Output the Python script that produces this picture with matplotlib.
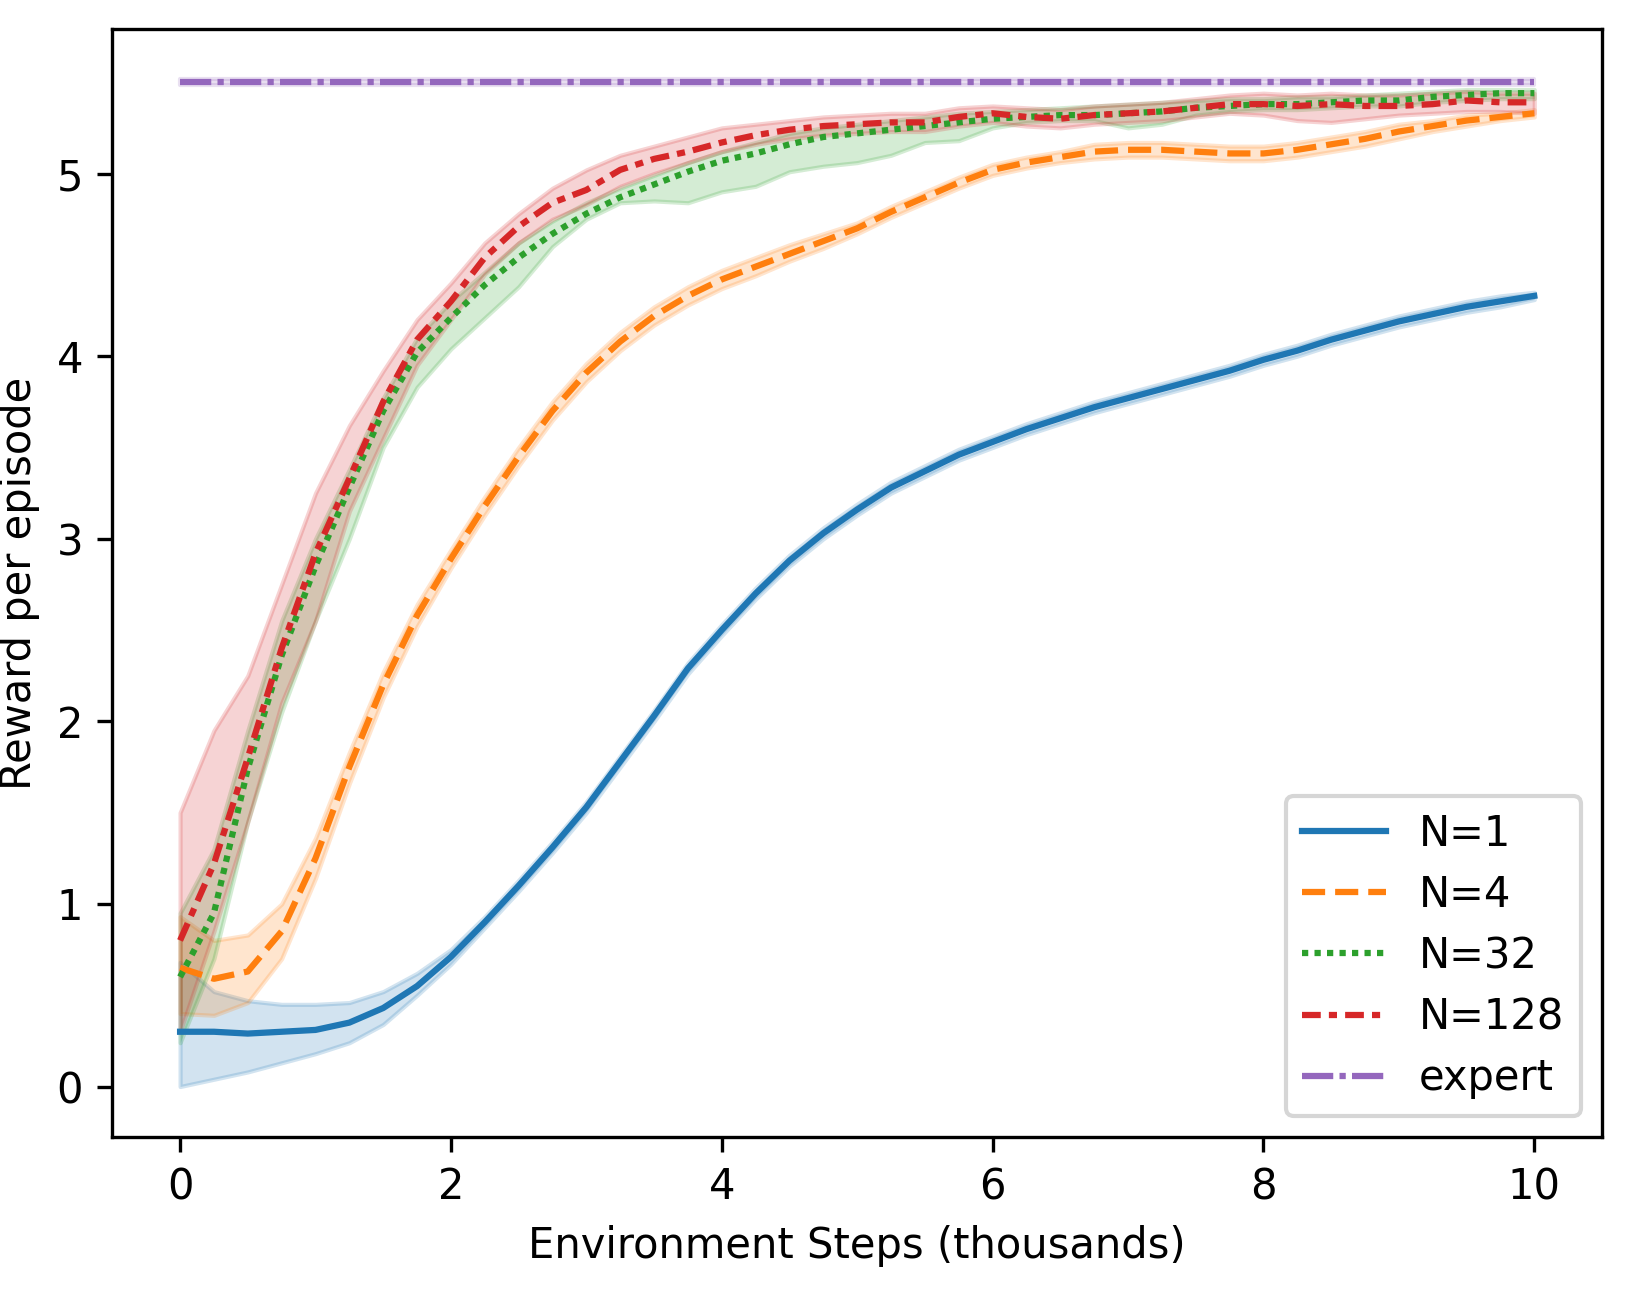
import numpy as np
import matplotlib.pyplot as plt

# environment steps (thousands)
STEPS = np.arange(0, 10.01, 0.25)

N1_MEAN = [0.30, 0.30, 0.29, 0.30, 0.31, 0.35, 0.43, 0.55, 0.71, 0.90,
           1.10, 1.31, 1.53, 1.78, 2.03, 2.29, 2.50, 2.70, 2.88, 3.03,
           3.16, 3.28, 3.37, 3.46, 3.53, 3.60, 3.66, 3.72, 3.77, 3.82,
           3.87, 3.92, 3.98, 4.03, 4.09, 4.14, 4.19, 4.23, 4.27, 4.30, 4.33]
N1_LO = [0.00, 0.04, 0.08, 0.13, 0.18, 0.24, 0.34, 0.50, 0.67, 0.87,
         1.07, 1.28, 1.50, 1.75, 2.00, 2.26, 2.47, 2.67, 2.85, 3.00,
         3.13, 3.25, 3.34, 3.43, 3.50, 3.57, 3.63, 3.69, 3.74, 3.79,
         3.84, 3.89, 3.95, 4.00, 4.06, 4.11, 4.16, 4.20, 4.24, 4.27, 4.31]
N1_HI = [0.68, 0.52, 0.47, 0.45, 0.45, 0.46, 0.52, 0.62, 0.75, 0.93,
         1.13, 1.34, 1.56, 1.81, 2.06, 2.32, 2.53, 2.73, 2.91, 3.06,
         3.19, 3.31, 3.40, 3.49, 3.56, 3.63, 3.69, 3.75, 3.80, 3.85,
         3.90, 3.95, 4.01, 4.06, 4.12, 4.17, 4.22, 4.26, 4.30, 4.33, 4.35]

N4_MEAN = [0.65, 0.59, 0.63, 0.85, 1.25, 1.75, 2.20, 2.58, 2.89, 3.18,
           3.45, 3.70, 3.91, 4.08, 4.22, 4.33, 4.42, 4.49, 4.56, 4.63,
           4.70, 4.79, 4.87, 4.95, 5.02, 5.06, 5.09, 5.12, 5.13, 5.13,
           5.12, 5.11, 5.11, 5.13, 5.16, 5.19, 5.23, 5.26, 5.29, 5.31, 5.33]
N4_LO = [0.40, 0.39, 0.46, 0.70, 1.14, 1.66, 2.13, 2.52, 2.84, 3.13,
         3.40, 3.65, 3.86, 4.03, 4.17, 4.28, 4.37, 4.44, 4.52, 4.59,
         4.67, 4.76, 4.84, 4.92, 4.99, 5.03, 5.06, 5.08, 5.09, 5.09,
         5.08, 5.07, 5.07, 5.09, 5.12, 5.15, 5.19, 5.23, 5.26, 5.29, 5.31]
N4_HI = [0.93, 0.80, 0.83, 1.00, 1.36, 1.83, 2.27, 2.64, 2.94, 3.23,
         3.50, 3.75, 3.96, 4.13, 4.27, 4.38, 4.47, 4.54, 4.61, 4.67,
         4.73, 4.82, 4.90, 4.98, 5.05, 5.09, 5.12, 5.16, 5.17, 5.17,
         5.16, 5.15, 5.15, 5.17, 5.20, 5.23, 5.27, 5.29, 5.32, 5.33, 5.35]

N32_MEAN = [0.60, 0.95, 1.74, 2.36, 2.85, 3.28, 3.70, 4.02, 4.21, 4.39,
            4.54, 4.67, 4.78, 4.87, 4.94, 5.01, 5.07, 5.11, 5.16, 5.20,
            5.22, 5.24, 5.26, 5.28, 5.30, 5.31, 5.32, 5.32, 5.33, 5.34,
            5.36, 5.37, 5.38, 5.38, 5.39, 5.40, 5.40, 5.42, 5.43, 5.44, 5.44]
N32_LO = [0.24, 0.70, 1.45, 2.05, 2.55, 3.00, 3.50, 3.83, 4.04, 4.21,
          4.38, 4.60, 4.75, 4.84, 4.85, 4.84, 4.90, 4.93, 5.01, 5.04,
          5.06, 5.10, 5.17, 5.18, 5.25, 5.28, 5.29, 5.29, 5.25, 5.27,
          5.32, 5.34, 5.35, 5.35, 5.36, 5.37, 5.37, 5.39, 5.40, 5.41, 5.41]
N32_HI = [0.95, 1.30, 1.95, 2.55, 3.00, 3.38, 3.77, 4.10, 4.30, 4.46,
          4.62, 4.74, 4.84, 4.92, 4.99, 5.06, 5.12, 5.17, 5.22, 5.25,
          5.27, 5.29, 5.31, 5.33, 5.34, 5.35, 5.36, 5.37, 5.38, 5.39,
          5.40, 5.41, 5.41, 5.42, 5.42, 5.43, 5.44, 5.45, 5.46, 5.46, 5.46]

N128_MEAN = [0.80, 1.22, 1.80, 2.40, 2.92, 3.33, 3.75, 4.09, 4.30, 4.54,
             4.71, 4.84, 4.91, 5.02, 5.08, 5.12, 5.17, 5.21, 5.24, 5.26,
             5.27, 5.28, 5.28, 5.31, 5.33, 5.31, 5.30, 5.32, 5.33, 5.34,
             5.36, 5.38, 5.38, 5.37, 5.38, 5.37, 5.37, 5.38, 5.40, 5.39, 5.39]
N128_LO = [0.30, 0.85, 1.45, 2.10, 2.55, 3.15, 3.55, 3.95, 4.20, 4.45,
           4.62, 4.75, 4.83, 4.93, 5.00, 5.06, 5.12, 5.16, 5.19, 5.21,
           5.22, 5.23, 5.23, 5.26, 5.28, 5.26, 5.25, 5.27, 5.28, 5.29,
           5.31, 5.33, 5.32, 5.29, 5.28, 5.30, 5.32, 5.33, 5.34, 5.34, 5.33]
N128_HI = [1.50, 1.95, 2.25, 2.75, 3.25, 3.62, 3.92, 4.20, 4.40, 4.62,
           4.78, 4.92, 5.02, 5.10, 5.15, 5.20, 5.25, 5.27, 5.29, 5.31,
           5.32, 5.33, 5.33, 5.36, 5.37, 5.36, 5.35, 5.37, 5.38, 5.39,
           5.41, 5.43, 5.44, 5.43, 5.44, 5.43, 5.43, 5.44, 5.45, 5.44, 5.44]

EXPERT_REWARD = 5.5
EXPERT_SPREAD = 0.015

LABELS = ["N=1", "N=4", "N=32", "N=128"]


def main():
    fig = plt.figure(figsize=(1631 / 300, 1295 / 300), dpi=300)
    ax = fig.add_axes([0.0689, 0.1221, 0.9133, 0.8554])

    series = [
        (N1_MEAN, N1_LO, N1_HI, "C0", "-"),
        (N4_MEAN, N4_LO, N4_HI, "C1", "--"),
        (N32_MEAN, N32_LO, N32_HI, "C2", (0, (1, 1))),
        (N128_MEAN, N128_LO, N128_HI, "C3", (0, (3, 1.3, 1.3, 1.3))),
    ]
    for (mean, lo, hi, color, ls), label in zip(series, LABELS):
        ax.plot(STEPS, mean, color=color, linestyle=ls, label=label)
        ax.fill_between(STEPS, lo, hi, color=color, alpha=0.2)

    expert = np.full(len(STEPS), EXPERT_REWARD)
    ax.plot(STEPS, expert, color="C4", linestyle=(0, (5, 1, 1, 1)),
            label="expert")
    ax.fill_between(STEPS, expert - EXPERT_SPREAD, expert + EXPERT_SPREAD,
                    color="C4", alpha=0.2)

    ax.set_xlabel("Environment Steps (thousands)")
    ax.set_ylabel("Reward per episode")
    ax.legend(loc="lower right", labelspacing=0.46)
    fig.savefig("out.png", dpi=300)


if __name__ == "__main__":
    main()
